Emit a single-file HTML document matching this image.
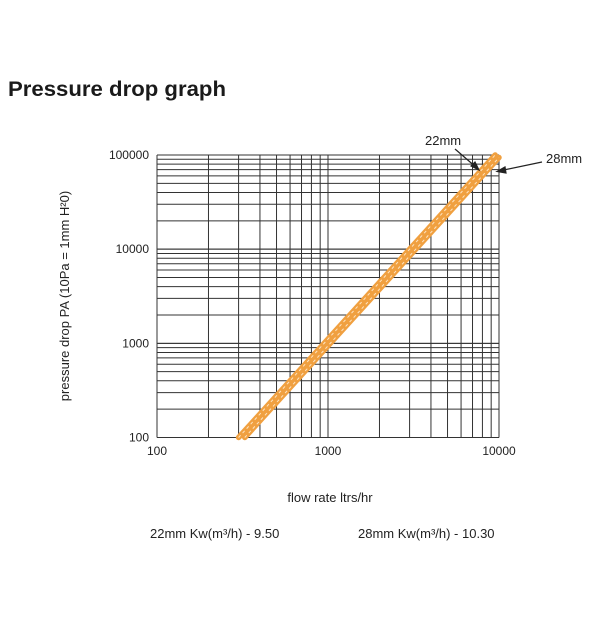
<!DOCTYPE html>
<html><head><meta charset="utf-8"><style>
body{margin:0;background:#fff;}
svg{display:block;font-family:"Liberation Sans",sans-serif;}
</style></head><body>
<svg width="600" height="624" viewBox="0 0 600 624">
<text x="8" y="96" font-size="21" font-weight="bold" fill="#1a1a1a" textLength="218" lengthAdjust="spacingAndGlyphs">Pressure drop graph</text>
<g id="grid"></g>
<g id="series"></g>
<g id="ticks" font-size="12" fill="#222"></g>
<text transform="translate(69,296) rotate(-90)" text-anchor="middle" font-size="13" fill="#222">pressure drop PA (10Pa = 1mm H²0)</text>
<text x="330" y="502" text-anchor="middle" font-size="13" fill="#222">flow rate ltrs/hr</text>
<text x="150" y="538" font-size="13" fill="#222">22mm Kw(m³/h) - 9.50</text>
<text x="358" y="538" font-size="13" fill="#222">28mm Kw(m³/h) - 10.30</text>
<text x="425" y="145" font-size="13" fill="#222">22mm</text>
<text x="546" y="163" font-size="13" fill="#222">28mm</text>
<g stroke="#222" stroke-width="1.2" fill="#222">
<line x1="455" y1="149" x2="477" y2="168"/>
<polygon points="479,170 471,166 475,162"/>
<line x1="542" y1="162" x2="499" y2="171"/>
<polygon points="497,171.5 505,167 506,173"/>
</g>
</svg>
<script>
const xTicks=[100,1000,10000];
const yTicks=[100,1000,10000,100000];
const flow22=[300,9500];
const press22=[100,100000];
const flow28=[326,10000];
const press28=[100,94000];
const X0=157,X1=499,Y0=437.5,Y1=155;
function sx(v){return X0+(Math.log10(v)-2)/2*(X1-X0);}
function sy(v){return Y0-(Math.log10(v)-2)/3*(Y0-Y1);}
const NS="http://www.w3.org/2000/svg";
function mk(t,a,p){const e=document.createElementNS(NS,t);for(const k in a)e.setAttribute(k,a[k]);p.appendChild(e);return e;}
const grid=document.getElementById('grid');
for(let d=100;d<10000;d*=10){for(let m=1;m<=10;m++){const v=d*m;const x=sx(v);
const l=mk('line',{x1:x,x2:x,y1:Y1,y2:Y0,stroke:'#333','stroke-width':1},grid);

}}
for(let d=100;d<100000;d*=10){for(let m=1;m<=10;m++){const v=d*m;const y=sy(v);
const l=mk('line',{x1:X0,x2:X1,y1:y,y2:y,stroke:'#333','stroke-width':1},grid);

}}
const ticks=document.getElementById('ticks');
xTicks.forEach(v=>{const t=mk('text',{x:sx(v),y:455,'text-anchor':'middle'},ticks);t.textContent=v;

});
yTicks.forEach(v=>{const t=mk('text',{x:149,y:sy(v)+4,'text-anchor':'end'},ticks);t.textContent=v;

});
const ser=document.getElementById('series');
[[flow22,press22,'22mm'],[flow28,press28,'28mm']].forEach(([f,p,n])=>{
const pts=f.map((v,i)=>sx(v)+','+sy(p[i])).join(' ');
const a=mk('polyline',{points:pts,fill:'none',stroke:'#f0a040','stroke-width':5.5,'stroke-linecap':'round'},ser);


const b=mk('polyline',{points:pts,fill:'none',stroke:'#fde3c0','stroke-width':1,'stroke-dasharray':'3 3'},ser);

});
</script>
</body></html>
